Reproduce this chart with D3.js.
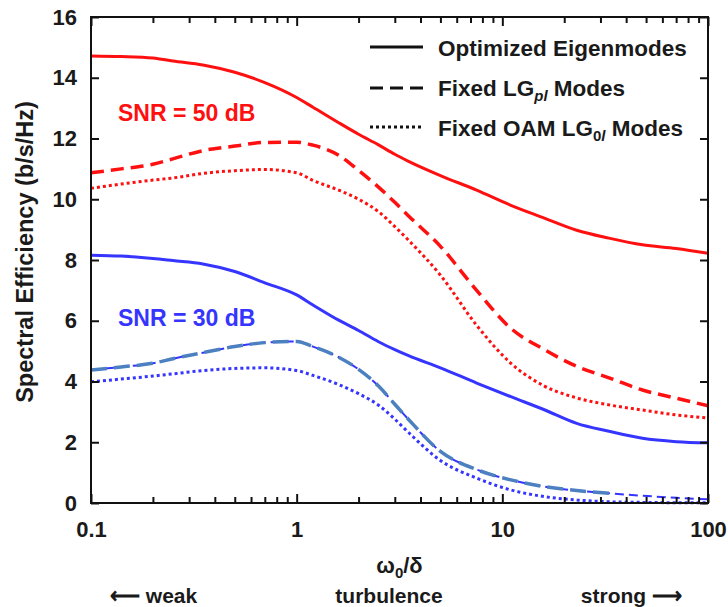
<!DOCTYPE html>
<html>
<head>
<meta charset="utf-8">
<script src="https://cdn.jsdelivr.net/npm/d3@7"></script>
<style>
  body { margin: 0; background: #fff; }
  text { font-family: "Liberation Sans", Arial, sans-serif; font-weight: bold; fill: #1a1a1a; }
</style>
</head>
<body>
<div id="chart"></div>
<script>
// data
var ratio = [0.1, 0.14, 0.2, 0.25, 0.35, 0.5, 0.7, 1, 1.2, 1.6, 2, 2.5, 3, 3.5, 5, 7.5, 11, 16, 23, 33, 48, 70, 100];

var opt50 = [14.72, 14.70, 14.65, 14.55, 14.42, 14.18, 13.84, 13.35, 13.03, 12.52, 12.14, 11.79, 11.48, 11.25, 10.78, 10.30, 9.80, 9.38, 8.98, 8.72, 8.50, 8.38, 8.22];
var lg50  = [10.87, 11.00, 11.15, 11.33, 11.60, 11.75, 11.87, 11.88, 11.78, 11.45, 10.95, 10.40, 9.90, 9.45, 8.45, 7.00, 5.75, 5.05, 4.50, 4.12, 3.72, 3.45, 3.20];
var oam50 = [10.36, 10.50, 10.63, 10.70, 10.85, 10.94, 10.98, 10.87, 10.62, 10.30, 10.00, 9.59, 9.10, 8.65, 7.50, 5.85, 4.60, 3.85, 3.46, 3.23, 3.06, 2.90, 2.80];

var opt30 = [8.16, 8.13, 8.05, 7.98, 7.87, 7.62, 7.25, 6.85, 6.52, 6.02, 5.68, 5.31, 5.05, 4.85, 4.45, 3.95, 3.50, 3.07, 2.62, 2.36, 2.13, 2.02, 1.98];
var lg30  = [4.38, 4.48, 4.60, 4.75, 4.95, 5.15, 5.28, 5.32, 5.15, 4.80, 4.40, 3.85, 3.25, 2.75, 1.70, 1.10, 0.76, 0.54, 0.41, 0.32, 0.24, 0.17, 0.12];
var oam30 = [3.99, 4.08, 4.18, 4.25, 4.36, 4.43, 4.45, 4.36, 4.20, 3.90, 3.60, 3.22, 2.76, 2.32, 1.40, 0.82, 0.43, 0.21, 0.10, 0.04, 0.02, 0.01, 0.01];

var xMajor = [0.1, 1, 10, 100];
var xLabels = ["0.1", "1", "10", "100"];
var yTicks = [0, 2, 4, 6, 8, 10, 12, 14, 16];

var red = "#ff1010", blue = "#3535ff", steel = "#4c80c0";

var margin = {top: 17, right: 20, bottom: 104, left: 91},
    width = 728 - margin.left - margin.right,
    height = 607 - margin.top - margin.bottom;

var svg = d3.select("#chart")
  .append("svg")
    .attr("width", 728)
    .attr("height", 607)
  .append("g")
    .attr("transform", "translate(" + margin.left + "," + margin.top + ")");

var x = d3.scaleLog().domain([0.1, 100]).range([0, width]);
var y = d3.scaleLinear().domain([0, 16]).range([height, 0]);

// minor ticks 2..9 per decade
var xMinor = [];
[0.1, 1, 10].forEach(function(d) {
  for (var k = 2; k <= 9; k++) xMinor.push(d * k);
});

function pts(vals, maxX) {
  return ratio.map(function(r, i) { return {x: r, y: vals[i]}; })
    .filter(function(d) { return maxX == null || d.x <= maxX; });
}

var line = d3.line()
  .x(function(d) { return x(d.x); })
  .y(function(d) { return y(d.y); })
  .curve(d3.curveMonotoneX);

var series = [
  {vals: opt50, color: red,  w: 3,   dash: null},
  {vals: lg50,  color: red,  w: 3.5, dash: "13,7"},
  {vals: oam50, color: red,  w: 3,   dash: "3,3"},
  {vals: opt30, color: blue, w: 3,   dash: null},
  {vals: lg30,  color: blue, w: 2,   dash: "9,5"},
  {vals: oam30, color: blue, w: 3,   dash: "3,3"}
];

var plot = svg.append("g");
series.forEach(function(s) {
  plot.append("path")
    .datum(pts(s.vals))
    .attr("fill", "none")
    .attr("stroke", s.color)
    .attr("stroke-width", s.w)
    .attr("stroke-dasharray", s.dash)
    .attr("d", line);
});

// the lighter overlay on the 30 dB LG curve
plot.append("path")
  .datum(pts(lg30, 40))
  .attr("fill", "none")
  .attr("stroke", steel)
  .attr("stroke-width", 3.5)
  .attr("stroke-dasharray", "16,7")
  .attr("d", line);

// axes, ticks pointing inwards
var xAxis = svg.append("g")
  .attr("transform", "translate(0," + height + ")")
  .call(d3.axisBottom(x).tickValues(xMajor).tickFormat(function(d, i) { return xLabels[i]; })
    .tickSize(-9).tickPadding(18));
xAxis.selectAll("text").style("font-size", "22px");

svg.append("g")
  .attr("transform", "translate(0," + height + ")")
  .call(d3.axisBottom(x).tickValues(xMinor).tickFormat("").tickSize(-6));

svg.append("g")
  .call(d3.axisTop(x).tickValues(xMajor).tickFormat("").tickSize(-9));
svg.append("g")
  .call(d3.axisTop(x).tickValues(xMinor).tickFormat("").tickSize(-6));

var yAxis = svg.append("g")
  .call(d3.axisLeft(y).tickValues(yTicks).tickSize(-8).tickPadding(14));
yAxis.selectAll("text").style("font-size", "22px");

svg.append("g")
  .attr("transform", "translate(" + width + ",0)")
  .call(d3.axisRight(y).tickValues(yTicks).tickFormat("").tickSize(-8));

svg.selectAll(".domain").remove();
svg.selectAll(".tick line").attr("stroke", "#111").attr("stroke-width", 2);

svg.append("rect")
  .attr("width", width)
  .attr("height", height)
  .attr("fill", "none")
  .attr("stroke", "#111")
  .attr("stroke-width", 2);

// labels
svg.append("text")
  .attr("transform", "translate(-58," + (height / 2 - 8) + ")rotate(-90)")
  .attr("text-anchor", "middle")
  .style("font-size", "23.5px")
  .text("Spectral Efficiency (b/s/Hz)");

var xl = svg.append("text")
  .attr("x", width / 2)
  .attr("y", height + 70)
  .attr("text-anchor", "middle")
  .style("font-size", "22px");
xl.append("tspan").text("\u03c9");
xl.append("tspan").attr("dy", 5).style("font-size", "15px").text("0");
xl.append("tspan").attr("dy", -5).text("/\u03b4");

svg.append("text")
  .attr("x", 19).attr("y", height + 100)
  .style("font-size", "21px")
  .text("\u27f5 weak");
svg.append("text")
  .attr("x", 298).attr("y", height + 100)
  .attr("text-anchor", "middle")
  .style("font-size", "21px")
  .text("turbulence");
svg.append("text")
  .attr("x", 591).attr("y", height + 100)
  .attr("text-anchor", "end")
  .style("font-size", "21px")
  .text("strong \u27f6");

svg.append("text")
  .attr("x", 27).attr("y", 104)
  .style("font-size", "23px")
  .style("fill", red)
  .text("SNR = 50 dB");
svg.append("text")
  .attr("x", 27).attr("y", 309)
  .style("font-size", "23px")
  .style("fill", blue)
  .text("SNR = 30 dB");

// legend
var legend = [
  {dash: null, y: 30},
  {dash: "13,7", y: 71},
  {dash: "3,3", y: 110}
];
legend.forEach(function(d) {
  svg.append("line")
    .attr("x1", 279).attr("x2", 332)
    .attr("y1", d.y).attr("y2", d.y)
    .attr("stroke", "#111")
    .attr("stroke-width", 3)
    .attr("stroke-dasharray", d.dash);
});

svg.append("text")
  .attr("x", 347).attr("y", 39)
  .style("font-size", "22.5px")
  .text("Optimized Eigenmodes");

var l2 = svg.append("text")
  .attr("x", 347).attr("y", 79)
  .style("font-size", "22.5px");
l2.append("tspan").text("Fixed LG");
l2.append("tspan").attr("dy", 5).style("font-size", "15px").style("font-style", "italic").text("pl");
l2.append("tspan").attr("dy", -5).text(" Modes");

var l3 = svg.append("text")
  .attr("x", 347).attr("y", 119)
  .style("font-size", "22.5px");
l3.append("tspan").text("Fixed OAM LG");
l3.append("tspan").attr("dy", 5).style("font-size", "15px").text("0");
l3.append("tspan").style("font-size", "15px").style("font-style", "italic").text("l");
l3.append("tspan").attr("dy", -5).text(" Modes");
</script>
</body>
</html>
